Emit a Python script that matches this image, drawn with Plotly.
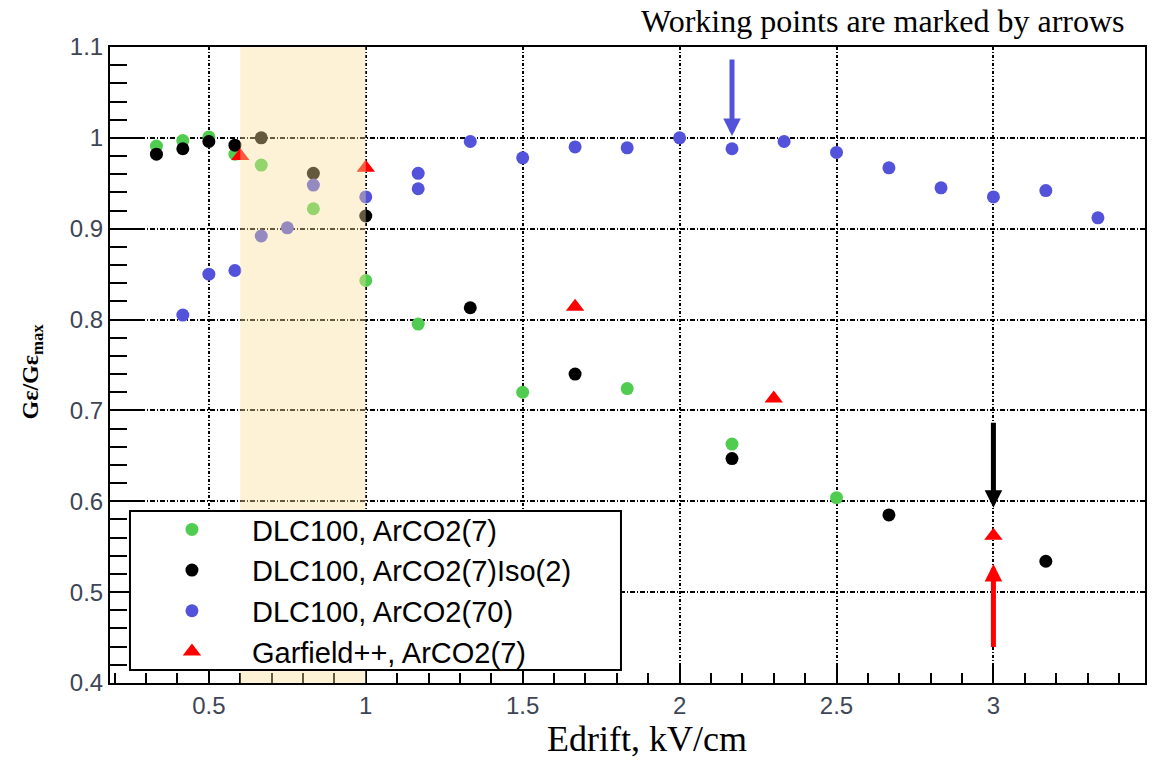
import plotly.graph_objects as go

# Gain x efficiency, normalised to its maximum, versus drift field (kV/cm)
x_green = [0.333, 0.417, 0.5, 0.583, 0.667, 0.833, 1.0, 1.167, 1.5, 1.833, 2.167, 2.5]
y_green = [0.991, 0.997, 1.001, 0.982, 0.970, 0.922, 0.843, 0.795, 0.720, 0.724, 0.663, 0.604]

x_black = [0.333, 0.417, 0.5, 0.583, 0.667, 0.833, 1.0, 1.333, 1.667, 2.167, 2.667, 3.167]
y_black = [0.982, 0.988, 0.996, 0.992, 1.000, 0.961, 0.914, 0.813, 0.740, 0.647, 0.585, 0.534]

x_blue = [0.417, 0.5, 0.583, 0.667, 0.75, 0.833, 1.0, 1.167, 1.167, 1.333, 1.5,
          1.667, 1.833, 2.0, 2.167, 2.333, 2.5, 2.667, 2.833, 3.0, 3.167, 3.333]
y_blue = [0.805, 0.850, 0.854, 0.892, 0.901, 0.948, 0.935, 0.961, 0.944, 0.996, 0.978,
          0.990, 0.989, 1.000, 0.988, 0.996, 0.984, 0.967, 0.945, 0.935, 0.942, 0.912]

x_garf = [0.6, 1.0, 1.667, 2.3, 3.0]
y_garf = [0.980, 0.967, 0.814, 0.713, 0.562]

series_names = ["DLC100, ArCO2(7)", "DLC100, ArCO2(7)Iso(2)",
                "DLC100, ArCO2(70)", "Garfield++, ArCO2(7)"]

# working-point arrows: x, tip y, tail y, colour
arrow_x = [2.167, 3.0, 3.0]
arrow_tip = [1.002, 0.593, 0.531]
arrow_tail = [1.088, 0.688, 0.438]
arrow_colors = ["#5252DB", "#000000", "#FF0000"]

# highlighted drift-field window
band_x = [0.6, 1.0]

x_ticks = [0.5, 1, 1.5, 2, 2.5, 3]
x_ticktext = ["0.5", "1", "1.5", "2", "2.5", "3"]
y_ticks = [0.4, 0.5, 0.6, 0.7, 0.8, 0.9, 1.0, 1.1]
y_ticktext = ["0.4", "0.5", "0.6", "0.7", "0.8", "0.9", "1", "1.1"]

SANS = "Liberation Sans, Arial, sans-serif"
SERIF = "Liberation Serif, Times New Roman, serif"
TICKCOL = "#3d4556"
GRIDCOL = "#000000"

fig = go.Figure()

fig.add_trace(go.Scatter(x=x_green, y=y_green, mode="markers", name=series_names[0],
                         marker=dict(symbol="circle", size=13, color="#50CD50", line=dict(width=0))))
fig.add_trace(go.Scatter(x=x_black, y=y_black, mode="markers", name=series_names[1],
                         marker=dict(symbol="circle", size=13, color="#000000", line=dict(width=0))))
fig.add_trace(go.Scatter(x=x_blue, y=y_blue, mode="markers", name=series_names[2],
                         marker=dict(symbol="circle", size=13, color="#5252DB", line=dict(width=0))))
fig.add_trace(go.Scatter(x=x_garf, y=y_garf, mode="markers", name=series_names[3],
                         marker=dict(symbol="triangle-up", size=16, color="#FF0000", line=dict(width=0))))

# translucent band drawn over the markers
fig.add_shape(type="rect", xref="x", yref="paper", x0=band_x[0], x1=band_x[1], y0=0, y1=1,
              fillcolor="rgba(250,222,150,0.40)", line=dict(width=0), layer="above")

# framed white panel behind the legend entries
fig.add_shape(type="rect", xref="paper", yref="paper", x0=0.0193, x1=0.4937, y0=0.0204, y1=0.2704,
              fillcolor="#ffffff", line=dict(color="#000000", width=2), layer="above")

for ax_, tip, tail, col in zip(arrow_x, arrow_tip, arrow_tail, arrow_colors):
    fig.add_annotation(x=ax_, y=tip, ax=ax_, ay=tail, xref="x", yref="y", axref="x", ayref="y",
                       text="", showarrow=True, arrowhead=2, arrowsize=0.7, arrowwidth=5,
                       arrowcolor=col, standoff=0, startstandoff=0)

fig.add_annotation(text="Working points are marked by arrows", xref="paper", yref="paper",
                   x=0.747, y=1.041, xanchor="center", yanchor="middle", showarrow=False,
                   font=dict(family=SERIF, size=32, color="#000000"))
fig.add_annotation(text="Edrift, kV/cm", xref="paper", yref="paper",
                   x=0.519, y=-0.1226, xanchor="center", yanchor="bottom", showarrow=False,
                   font=dict(family=SERIF, size=36, color="#000000"))
fig.add_annotation(text="<b>G\u03b5/G\u03b5<sub>max</sub></b>", xref="paper", yref="paper",
                   x=-0.0752, y=0.49, xanchor="center", yanchor="middle", showarrow=False,
                   textangle=-90, font=dict(family=SERIF, size=24, color="#000000"))

fig.update_xaxes(range=[0.185, 3.483], tickvals=x_ticks, ticktext=x_ticktext,
                 ticks="inside", ticklen=19, tickwidth=1.5, tickcolor="#000000",
                 minor=dict(dtick=0.1, tick0=0, ticks="inside", ticklen=10, tickwidth=1.5,
                            tickcolor="#000000", showgrid=False),
                 showline=True, linecolor="#000000", linewidth=2, mirror=True,
                 showgrid=True, gridcolor=GRIDCOL, gridwidth=1.5, griddash="3px,2px,1px,2px",
                 zeroline=False, tickfont=dict(family=SANS, size=24, color=TICKCOL))
fig.update_yaxes(range=[0.4, 1.1], tickvals=y_ticks, ticktext=y_ticktext,
                 ticks="inside", ticklen=33, tickwidth=1.5, tickcolor="#000000",
                 minor=dict(dtick=0.02, tick0=0, ticks="inside", ticklen=17, tickwidth=1.5,
                            tickcolor="#000000", showgrid=False),
                 showline=True, linecolor="#000000", linewidth=2, mirror=True,
                 showgrid=True, gridcolor=GRIDCOL, gridwidth=1.5, griddash="5px,2px,1px,2px",
                 zeroline=False, tickfont=dict(family=SANS, size=24, color=TICKCOL))

fig.update_layout(
    width=1159, height=761,
    margin=dict(l=110, r=12, t=47, b=78),
    paper_bgcolor="#ffffff", plot_bgcolor="#ffffff",
    showlegend=True,
    legend=dict(x=0.0212, y=0.1454, xanchor="left", yanchor="middle",
                bgcolor="rgba(0,0,0,0)", borderwidth=0,
                font=dict(family=SANS, size=29, color="#000000"),
                itemwidth=110, tracegroupgap=0),
)

fig.write_html("out.html")
